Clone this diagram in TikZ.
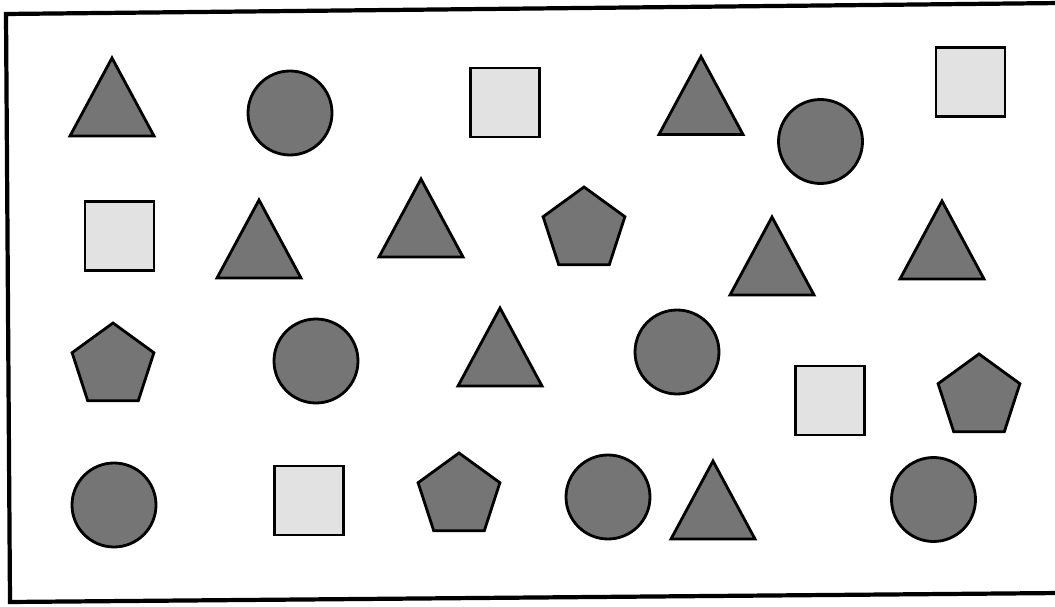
\documentclass[tikz,border=0pt]{standalone}
\usetikzlibrary{calc}
\definecolor{darkfill}{HTML}{757575}
\definecolor{lightfill}{HTML}{E2E2E2}
\tikzset{
  shapeline/.style={draw=black, line width=1.6pt, line join=miter},
  darkshape/.style={shapeline, fill=darkfill},
  lightshape/.style={shapeline, fill=lightfill},
  frameline/.style={draw=black, line width=2.4pt},
  tri/.pic={\path[darkshape] (0,-39) -- (42,39) -- (-42,39) -- cycle;},
  circ/.pic={\path[darkshape] (0,0) circle[radius=42];},
  sq/.pic={\path[lightshape] (-34.5,-34.5) rectangle (34.5,34.5);},
  pent/.pic={\path[darkshape] (-90:43) -- (-18:43) -- (54:43) -- (126:43) -- (198:43) -- cycle;}
}
\begin{document}
\begin{tikzpicture}[x=0.02cm, y=-0.02cm]
\useasboundingbox (0,0) rectangle (1055,607);
\clip (0,0) rectangle (1055,607);
% frame
\coordinate (tl) at (6,14);
\coordinate (tr) at (1062,3);
\coordinate (br) at (1062,593);
\coordinate (bl) at (10,602);
\path[frameline] (tl) -- (tr) -- (br) -- (bl) -- cycle;
% triangles
\coordinate (t1) at (112,97);
\coordinate (t2) at (701,95.5);
\coordinate (t3) at (259,239);
\coordinate (t4) at (421,218);
\coordinate (t5) at (772,256);
\coordinate (t6) at (942,240);
\coordinate (t7) at (500,347);
\coordinate (t8) at (713,500);
\foreach \n in {t1,t2,t3,t4,t5,t6,t7,t8} \pic at (\n) {tri};
% circles
\coordinate (c1) at (290,113);
\coordinate (c2) at (820.5,141.5);
\coordinate (c3) at (316,361);
\coordinate (c4) at (677,352);
\coordinate (c5) at (114,505);
\coordinate (c6) at (608,497);
\coordinate (c7) at (933.5,499.5);
\foreach \n in {c1,c2,c3,c4,c5,c6,c7} \pic at (\n) {circ};
% squares
\coordinate (s1) at (505,102.5);
\coordinate (s2) at (970.5,82);
\coordinate (s3) at (119.5,236);
\coordinate (s4) at (830,400.5);
\coordinate (s5) at (309,500.5);
\foreach \n in {s1,s2,s3,s4,s5} \pic at (\n) {sq};
% pentagons
\coordinate (p1) at (584,230);
\coordinate (p2) at (113,366);
\coordinate (p3) at (979,397);
\coordinate (p4) at (459,496);
\foreach \n in {p1,p2,p3,p4} \pic at (\n) {pent};
\end{tikzpicture}
\end{document}
